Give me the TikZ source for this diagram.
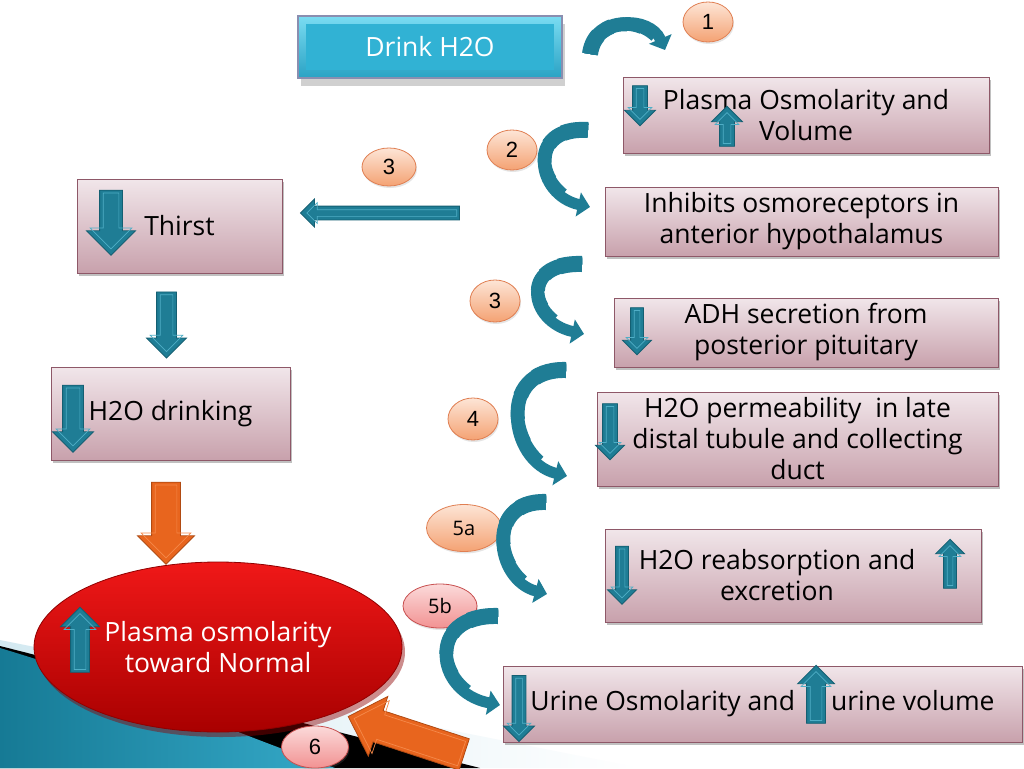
\documentclass[tikz,border=0pt]{standalone}
\usepackage{fontspec}
\setmainfont{Open Sans}
\newfontfamily\numfont{Liberation Sans}
\usetikzlibrary{shapes.geometric,shapes.arrows,arrows.meta,shadows}
\definecolor{tealA}{HTML}{1F7D95}
\definecolor{tealB}{HTML}{145F72}
\definecolor{tealC}{HTML}{4FAEC6}
\definecolor{boxtop}{HTML}{F1E6EA}
\definecolor{boxbot}{HTML}{C8A1AC}
\definecolor{boxline}{HTML}{8E5868}
\definecolor{circtop}{HTML}{FDE5D6}
\definecolor{circbot}{HTML}{F4A273}
\definecolor{circline}{HTML}{E07F52}
\definecolor{pinktop}{HTML}{FBDADA}
\definecolor{pinkbot}{HTML}{F29292}
\definecolor{pinkline}{HTML}{C85050}
\definecolor{drinktop}{HTML}{7ADCF2}
\definecolor{drinkbot}{HTML}{2AA2C4}
\definecolor{drinkin}{HTML}{31B2D4}
\definecolor{drinkline}{HTML}{8A8EB0}
\definecolor{ora}{HTML}{E8651E}
\definecolor{oraline}{HTML}{B04A12}
\definecolor{oraC}{HTML}{F5894A}
\definecolor{redtop}{HTML}{F01818}
\definecolor{redbot}{HTML}{A80000}
\definecolor{redline}{HTML}{900000}
\definecolor{bgteal}{HTML}{167A95}
\definecolor{bgteal2}{HTML}{35A9C8}
\definecolor{bgpale}{HTML}{D3E9F1}
% name, position, length, head width, shaft width, rotation, style, inner line colour
\newcommand\barrow[8]{%
  \pgfmathsetmacro\bext{(#4-#5)/2}%
  \pgfmathsetmacro\bsh{#5/2}%
  \pgfmathsetmacro\bshi{(#5-7)/2}%
  \pgfmathsetmacro\blen{#3-9}%
  \node[blockarrow, #7, minimum height=#3pt, inner xsep=0pt, inner ysep=\bsh pt,
        single arrow head extend=\bext pt, rotate=#6] (#1) at (#2) {};
  \node[blockarrow, draw=#8, line width=0.7pt, minimum height=\blen pt, inner xsep=0pt,
        inner ysep=\bshi pt, single arrow head extend=\bext pt, rotate=#6] (#1-in) at (#2) {};}
% curved arrow with tapering: #1 = path, #2 = approx. length
\newcommand\curvarrow[2]{%
  \draw[curv] #1;
  \foreach \fr/\wd in {0.8/12, 0.65/13, 0.5/14, 0.35/15, 0.2/16}{%
    \pgfmathsetmacro\cl{\fr*#2}%
    \draw[draw=tealA, line width=\wd pt, dash pattern=on \cl pt off 3000pt] #1;}}
\begin{document}
\begin{tikzpicture}[x=1pt,y=-1pt,
  blockarrow/.style={single arrow, single arrow head indent=0pt, line width=0.8pt},
  tealarr/.style={fill=tealA, draw=tealB},
  orangearr/.style={fill=ora, draw=oraline},
  pbox/.style={rectangle, draw=boxline, line width=0.8pt, top color=boxtop, bottom color=boxbot,
     drop shadow={shadow xshift=2pt, shadow yshift=-3pt, opacity=0.35, fill=black!70},
     align=center, inner sep=0pt, font=\fontsize{26.5}{31}\selectfont},
  numc/.style={ellipse, draw=circline, line width=0.8pt, top color=circtop, bottom color=circbot,
     inner sep=0pt, font=\numfont\fontsize{22}{22}\selectfont,
     drop shadow={shadow xshift=1pt, shadow yshift=-2pt, opacity=0.2}},
  pinkc/.style={numc, draw=pinkline, top color=pinktop, bottom color=pinkbot},
  curv/.style={draw=tealA, line width=11pt, -{Triangle[width=24pt,length=12pt]}},
]
\useasboundingbox (0,0) rectangle (1024,768);
\fill[white] (0,0) rectangle (1024,768);
% background swoosh
\shade[left color=bgpale, right color=white] (0,640) -- (640,768) -- (0,768) -- cycle;
\fill[black] (0,646) -- (480,768) -- (0,768) -- cycle;
\shade[left color=bgteal, right color=bgteal2] (0,648) .. controls (140,690) and (240,735) .. (335,768) -- (0,768) -- cycle;

% top box
\node[rectangle, draw=drinkline, line width=1.2pt, top color=drinktop, bottom color=drinkbot,
   minimum width=264pt, minimum height=62pt, text=white, font=\fontsize{26.5}{31}\selectfont,
   drop shadow={shadow xshift=3pt, shadow yshift=-8pt, opacity=0.3, fill=black!60},
   path picture={\fill[drinkin] ([shift={(8pt,-8pt)}]path picture bounding box.north west)
      rectangle ([shift={(-8pt,8pt)}]path picture bounding box.south east);}]
   (drink) at (430,47) {Drink H2O};

% boxes right column
\node[pbox, minimum width=366pt, minimum height=76pt] (plasma) at (806,115) {Plasma Osmolarity and\\Volume};
\node[pbox, minimum width=393pt, minimum height=69pt] (inhib) at (801.5,221.5) {Inhibits osmoreceptors in\\anterior hypothalamus};
\node[pbox, minimum width=384pt, minimum height=69pt] (adh) at (806,332.5) {ADH secretion from\\posterior pituitary};
\node[pbox, minimum width=401pt, minimum height=94pt] (perm) at (797.5,439) {H2O permeability\ \ in late\\distal tubule and collecting\\duct};
\node[pbox, minimum width=376pt, minimum height=93pt] (reab) at (793,575.5) {H2O reabsorption and\hspace*{32pt}\\excretion\hspace*{32pt}};
\node[pbox, minimum width=519pt, minimum height=76pt] (urine) at (762.5,704) {Urine Osmolarity and\hspace{36pt}urine volume};
% left column
\node[pbox, minimum width=205pt, minimum height=94pt] (thirst) at (179.5,226) {Thirst};
\node[pbox, minimum width=239pt, minimum height=93pt] (drinking) at (170.5,413.5) {H2O drinking};
\node[ellipse, minimum width=368pt, minimum height=170pt, top color=redtop, bottom color=redbot,
   draw=redline, line width=0.8pt, text=white, align=center, font=\fontsize{26.5}{31}\selectfont,
   drop shadow={shadow xshift=3pt, shadow yshift=-5pt, opacity=0.45, fill=redline}]
   (normal) at (218,647) {Plasma osmolarity\\toward Normal};

% block arrows inside boxes
\barrow{p1}{640,102}{40}{30}{14}{270}{tealarr}{tealC}
\barrow{p2}{727,130}{40}{30}{14}{90}{tealarr}{tealC}
\barrow{t1}{111,217}{65}{48}{22}{270}{tealarr}{tealC}
\barrow{d1}{73,413.5}{67}{40}{20}{270}{tealarr}{tealC}
\barrow{ad1}{637,328}{47}{28}{12}{270}{tealarr}{tealC}
\barrow{pe1}{610,428}{56}{28}{14}{270}{tealarr}{tealC}
\barrow{r1}{622,572}{58}{28}{12}{270}{tealarr}{tealC}
\barrow{r2}{950,567}{49}{28}{12}{90}{tealarr}{tealC}
\barrow{u1}{519,705}{66}{30}{13}{270}{tealarr}{tealC}
\barrow{u2}{816,699}{58}{36}{18}{90}{tealarr}{tealC}
\barrow{n1}{80,644.5}{65}{38}{18}{90}{tealarr}{tealC}
% block arrows between
\barrow{hz}{383.5,213}{159}{27}{13}{180}{tealarr}{tealC}
\barrow{td}{166.5,320}{66}{39}{19}{270}{tealarr}{tealC}
\barrow{od}{166,516}{82}{56}{28}{270}{orangearr}{oraC}
\barrow{odiag}{414,738}{122}{62}{32}{161.9}{orangearr}{oraC}

% number circles
\node[numc, minimum width=50pt, minimum height=40pt] (c1) at (708,22) {1};
\node[numc, minimum width=50pt, minimum height=40pt] (c2) at (512,150) {2};
\node[numc, minimum width=54pt, minimum height=38pt] (c3a) at (389,167) {3};
\node[numc, minimum width=50pt, minimum height=42pt] (c3b) at (495,301) {3};
\node[numc, minimum width=50pt, minimum height=42pt] (c4) at (473,419) {4};
\node[numc, minimum width=75pt, minimum height=47pt, font=\fontsize{20}{20}\selectfont] (c5a) at (464,528) {5a};
\node[pinkc, minimum width=74pt, minimum height=44pt, font=\fontsize{20}{20}\selectfont] (c5b) at (440,606) {5b};
\node[pinkc, minimum width=67pt, minimum height=42pt] (c6) at (315,747) {6};

% curved arrows
\coordinate (k1s) at (590,54); \coordinate (k1e) at (665,50);
\coordinate (k2s) at (588,130); \coordinate (k2e) at (590,207);
\coordinate (k3s) at (582,264); \coordinate (k3e) at (584,334);
\coordinate (k4s) at (566,370); \coordinate (k4e) at (567,476);
\coordinate (k5s) at (546,502); \coordinate (k5e) at (547,594);
\coordinate (k6s) at (498,616); \coordinate (k6e) at (500,705);
\curvarrow{(k1s) .. controls (595,15) and (650,15) .. (k1e)}{105}
\curvarrow{(k2s) .. controls (525,126) and (535,195) .. (k2e)}{125}
\curvarrow{(k3s) .. controls (518,262) and (528,322) .. (k3e)}{115}
\curvarrow{(k4s) .. controls (495,368) and (508,462) .. (k4e)}{160}
\curvarrow{(k5s) .. controls (484,500) and (494,580) .. (k5e)}{140}
\curvarrow{(k6s) .. controls (425,614) and (433,692) .. (k6e)}{145}
\end{tikzpicture}
\end{document}
